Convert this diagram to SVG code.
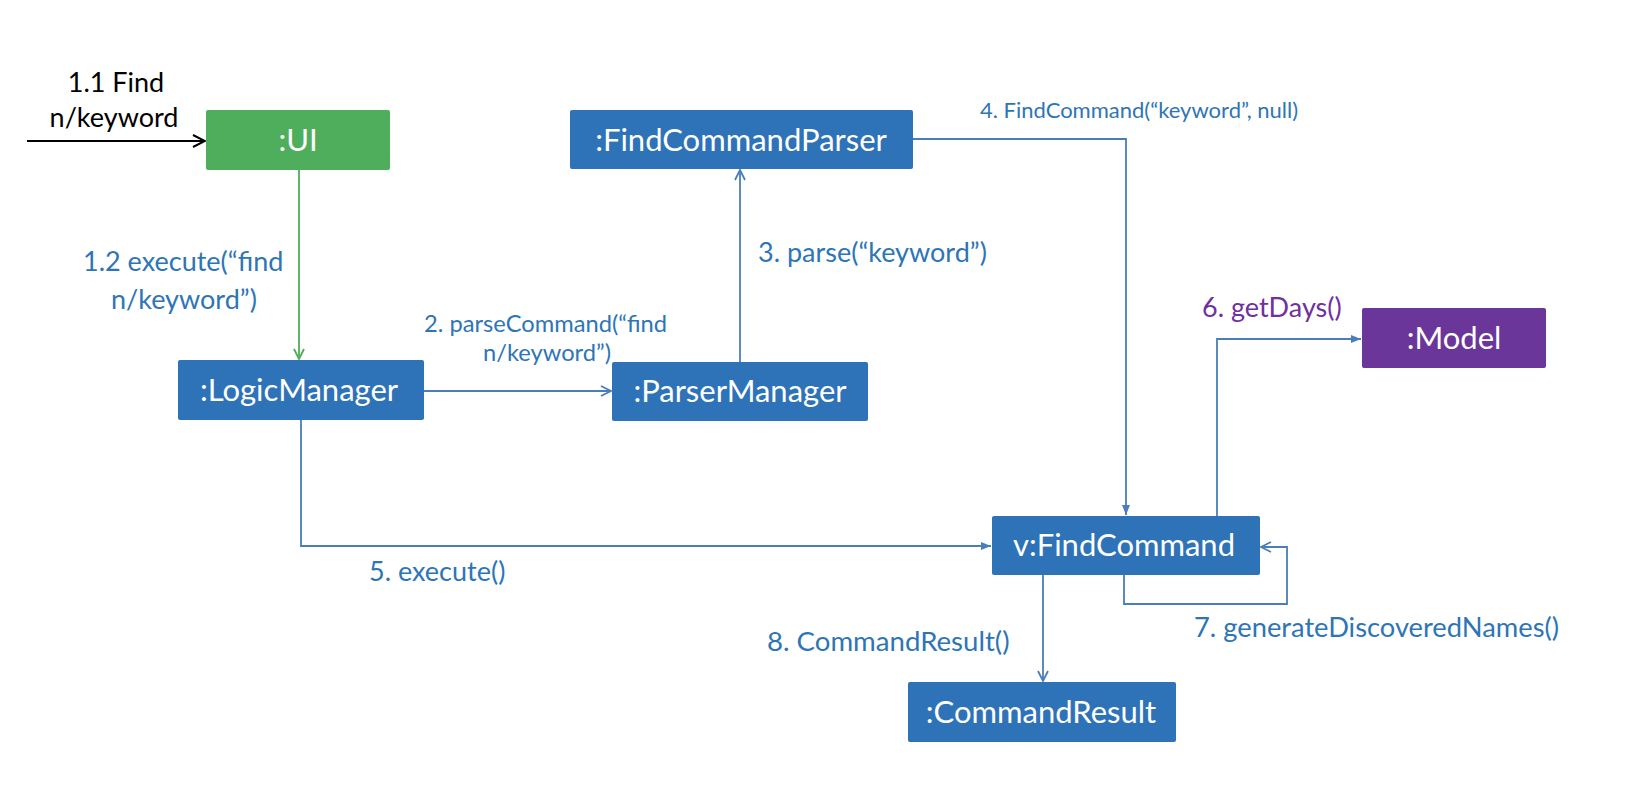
<svg xmlns="http://www.w3.org/2000/svg" width="1632" height="786" viewBox="0 0 1632 786">
<defs>
<style>
.box text{font-family:Lato,"Liberation Sans",sans-serif;font-size:31px;fill:#fff;text-anchor:middle}
.blue rect{fill:#2E72B8}
.lbl{font-family:Lato,"Liberation Sans",sans-serif;font-size:27px;fill:#2E75B6}
.conn path{fill:none;stroke:#4A7EBB;stroke-width:1.8}
</style>
<marker id="openK" viewBox="0 0 14 14" refX="13" refY="7" markerWidth="14" markerHeight="14" markerUnits="userSpaceOnUse" orient="auto">
<path d="M1,1 L13,7 L1,13" fill="none" stroke="#000" stroke-width="2"/>
</marker>
<marker id="openB" viewBox="0 0 12 12" refX="11" refY="6" markerWidth="12" markerHeight="12" markerUnits="userSpaceOnUse" orient="auto">
<path d="M1,1 L11,6 L1,11" fill="none" stroke="#4A7EBB" stroke-width="1.8"/>
</marker>
<marker id="openG" viewBox="0 0 12 12" refX="11" refY="6" markerWidth="12" markerHeight="12" markerUnits="userSpaceOnUse" orient="auto">
<path d="M1,1 L11,6 L1,11" fill="none" stroke="#4EAD5B" stroke-width="1.8"/>
</marker>
<marker id="fillB" viewBox="0 0 10 10" refX="10" refY="5" markerWidth="10" markerHeight="10" markerUnits="userSpaceOnUse" orient="auto">
<path d="M0,1 L10,5 L0,9 Z" fill="#4A7EBB"/>
</marker>
</defs>
<rect width="1632" height="786" fill="#fff"/>

<g id="connectors" class="conn">
<path d="M27,141 H205" style="stroke:#000;stroke-width:2" marker-end="url(#openK)"/>
<path d="M299,170 V359" style="stroke:#4EAD5B" marker-end="url(#openG)"/>
<path d="M424,391 H611" marker-end="url(#openB)"/>
<path d="M740,362 V170" marker-end="url(#openB)"/>
<path d="M913,139 H1126 V515" marker-end="url(#fillB)"/>
<path d="M301,420 V546 H991" marker-end="url(#fillB)"/>
<path d="M1217,516 V339 H1361" marker-end="url(#fillB)"/>
<path d="M1124,575 V604 H1287 V547 H1261" marker-end="url(#openB)"/>
<path d="M1043,575 V681" marker-end="url(#openB)"/>
</g>

<g id="labels">
<text x="116" y="92" text-anchor="middle" style="font-family:Lato,'Liberation Sans',sans-serif;font-size:27px;fill:#000">1.1 Find</text>
<text x="114" y="127" text-anchor="middle" style="font-family:Lato,'Liberation Sans',sans-serif;font-size:27px;fill:#000">n/keyword</text>
<text class="lbl" x="83" y="271">1.2 execute(“find</text>
<text class="lbl" x="111" y="309">n/keyword”)</text>
<text class="lbl" x="424" y="332" style="font-size:23.7px">2. parseCommand(“find</text>
<text class="lbl" x="483" y="361" style="font-size:23.7px">n/keyword”)</text>
<text class="lbl" x="758" y="262">3. parse(“keyword”)</text>
<text class="lbl" x="980" y="118" style="font-size:22px">4. FindCommand(“keyword”, null)</text>
<text class="lbl" x="369" y="581">5. execute()</text>
<text class="lbl" x="1202" y="317" style="fill:#7030A0">6. getDays()</text>
<text class="lbl" x="1194" y="637" style="font-size:27.3px">7. generateDiscoveredNames()</text>
<text class="lbl" x="767" y="651" style="font-size:27.6px">8. CommandResult()</text>
</g>

<g id="ui" class="box"><rect x="206" y="110" width="184" height="60" rx="2" fill="#4FAE5C"/><text x="298" y="151">:UI</text></g>
<g id="findCommandParser" class="box blue"><rect x="570" y="110" width="343" height="59" rx="2"/><text x="741" y="151">:FindCommandParser</text></g>
<g id="logicManager" class="box blue"><rect x="178" y="360" width="246" height="60" rx="2"/><text x="299" y="401">:LogicManager</text></g>
<g id="parserManager" class="box blue"><rect x="612" y="362" width="256" height="59" rx="2"/><text x="740" y="402">:ParserManager</text></g>
<g id="model" class="box"><rect x="1362" y="308" width="184" height="60" rx="2" fill="#6A3699"/><text x="1454" y="349">:Model</text></g>
<g id="findCommand" class="box blue"><rect x="992" y="516" width="268" height="59" rx="2"/><text x="1124" y="556">v:FindCommand</text></g>
<g id="commandResult" class="box blue"><rect x="908" y="682" width="268" height="60" rx="2"/><text x="1041" y="723">:CommandResult</text></g>
</svg>
